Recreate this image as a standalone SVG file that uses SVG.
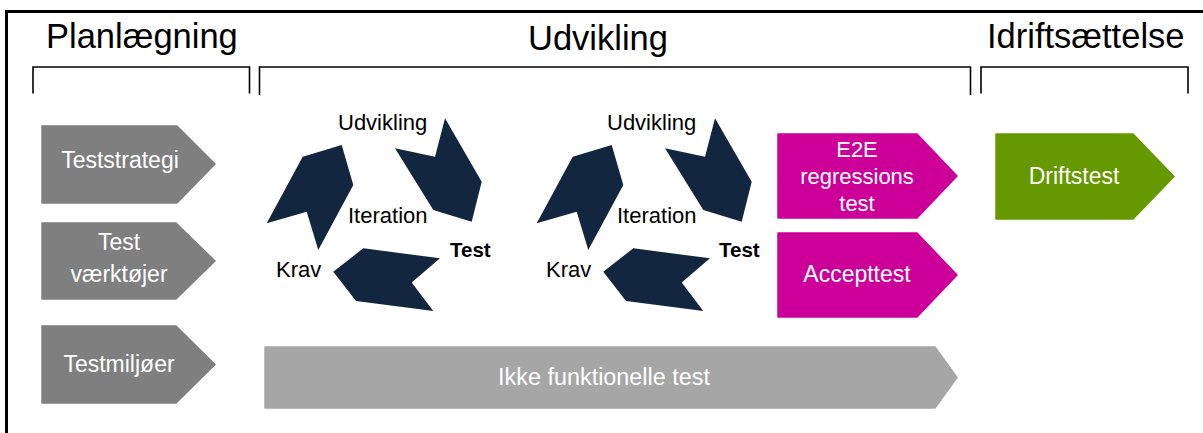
<svg xmlns="http://www.w3.org/2000/svg" width="1203" height="433" viewBox="0 0 1203 433">
  <style>
    text { font-family: "Liberation Sans", Arial, sans-serif; }
    .phase { font-size: 34.5px; fill: #000; }
    .bracket { fill: none; stroke: #000; stroke-width: 1.6; }
    .frame { fill: none; stroke: #000; stroke-width: 3; }
    .chev { stroke-width: 1.5; stroke-linejoin: round; }
    .gray { fill: #7f7f7f; stroke: #7f7f7f; }
    .lgray { fill: #a6a6a6; stroke: #a6a6a6; }
    .mag { fill: #cc0099; stroke: #cc0099; }
    .green { fill: #669900; stroke: #669900; }
    .lbl { font-size: 23px; fill: #fff; text-anchor: middle; }
    .lbl-sm { font-size: 22px; }
    .cyc { fill: #12263f; }
    .cl { font-size: 22px; fill: #000; }
    .clb { font-size: 20.5px; font-weight: bold; fill: #000; }
  </style>

  <!-- frame -->
  <path class="frame" d="M6.5,433 V11.5 H1203"/>

  <!-- phase headings -->
  <g id="phase-planning">
    <text class="phase" x="46" y="48">Planlægning</text>
    <path class="bracket" d="M33,93.5 V67 H249.5 V93.5"/>
  </g>
  <g id="phase-development">
    <text class="phase" x="528" y="50">Udvikling</text>
    <path class="bracket" d="M259.5,95 V67 H970.5 V95"/>
  </g>
  <g id="phase-operation">
    <text class="phase" x="987" y="48">Idriftsættelse</text>
    <path class="bracket" d="M981,93.5 V67 H1188 V93.5"/>
  </g>

  <!-- planning activities -->
  <g id="teststrategi">
    <path class="chev gray" d="M42,126 H177 L215,164 L177,203 H42 Z"/>
    <text class="lbl" x="120" y="168">Teststrategi</text>
  </g>
  <g id="testvaerktoejer">
    <path class="chev gray" d="M42,223 H176 L215,261 L176,299 H42 Z"/>
    <text class="lbl" x="119" y="250">Test</text>
    <text class="lbl" x="119" y="282">værktøjer</text>
  </g>
  <g id="testmiljoeer">
    <path class="chev gray" d="M42,326 H176 L215,364.5 L176,403 H42 Z"/>
    <text class="lbl" x="119" y="372">Testmiljøer</text>
  </g>

  <!-- iteration cycles: labels -->
  <g id="iteration-1">
    <text class="cl" x="338" y="130">Udvikling</text>
    <text class="cl" x="348" y="223">Iteration</text>
    <text class="cl" x="276" y="277">Krav</text>
    <text class="clb" x="450" y="257">Test</text>
  </g>
  <g id="iteration-2">
    <text class="cl" x="607" y="130">Udvikling</text>
    <text class="cl" x="617" y="223">Iteration</text>
    <text class="cl" x="546" y="277">Krav</text>
    <text class="clb" x="719" y="257">Test</text>
  </g>

  <!-- cycle arrows: Krav -> Udvikling -> Test -> Krav -->
  <g id="connectors">
    <g id="cycle-1" class="cyc">
      <path d="M341.7,145 L302.7,156.7 L266.7,223.3 L306.7,211.7 L318.3,250 L353.3,185 Z"/>
      <path d="M445,118.3 L481.7,181.7 L471.7,221.7 L433.3,210 L395,148.3 L435,156.7 Z"/>
      <path d="M363.3,248.3 L440,258.3 L411.7,282.5 L433.3,311 L356,301 L333.3,271.7 Z"/>
    </g>
    <g id="cycle-2" class="cyc" transform="translate(270,0)">
      <path d="M341.7,145 L302.7,156.7 L266.7,223.3 L306.7,211.7 L318.3,250 L353.3,185 Z"/>
      <path d="M445,118.3 L481.7,181.7 L471.7,221.7 L433.3,210 L395,148.3 L435,156.7 Z"/>
      <path d="M363.3,248.3 L440,258.3 L411.7,282.5 L433.3,311 L356,301 L333.3,271.7 Z"/>
    </g>
  </g>

  <!-- development activities -->
  <g id="e2e-regressionstest">
    <path class="chev mag" d="M778,134 H917 L957,176 L917,218 H778 Z"/>
    <text class="lbl lbl-sm" x="857" y="157">E2E</text>
    <text class="lbl lbl-sm" x="857" y="183.5">regressions</text>
    <text class="lbl lbl-sm" x="857" y="210.5">test</text>
  </g>
  <g id="accepttest">
    <path class="chev mag" d="M778,233 H917 L957,275 L917,317 H778 Z"/>
    <text class="lbl" x="857" y="282">Accepttest</text>
  </g>
  <g id="ikke-funktionelle-test">
    <path class="chev lgray" d="M265,347 H935 L957,377.5 L935,408 H265 Z"/>
    <text class="lbl" x="604" y="385" font-size="22.5" textLength="212" lengthAdjust="spacingAndGlyphs">Ikke funktionelle test</text>
  </g>

  <!-- operation activities -->
  <g id="driftstest">
    <path class="chev green" d="M996,134 H1133 L1174,176.5 L1133,219 H996 Z"/>
    <text class="lbl" x="1074" y="184">Driftstest</text>
  </g>
</svg>
